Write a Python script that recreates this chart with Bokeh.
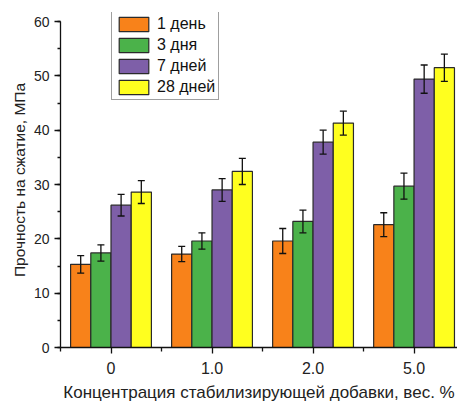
from bokeh.plotting import figure
from bokeh.models import (ColumnDataSource, Range1d, FixedTicker, SingleIntervalTicker,
                          Whisker, TeeHead, Legend, LegendItem)
from bokeh.transform import dodge
from bokeh.embed import file_html
from bokeh.resources import INLINE

categories = ["0", "1.0", "2.0", "5.0"]
series_names = ["1 день", "3 дня", "7 дней", "28 дней"]
day1 = [15.3, 17.2, 19.6, 22.6]
err1 = [1.6, 1.4, 2.3, 2.2]
day3 = [17.4, 19.6, 23.2, 29.7]
err3 = [1.5, 1.5, 2.1, 2.4]
day7 = [26.2, 29.0, 37.8, 49.4]
err7 = [2.0, 2.1, 2.2, 2.6]
day28 = [28.6, 32.4, 41.3, 51.5]
err28 = [2.1, 2.4, 2.2, 2.5]

colors = ["#F8821A", "#4BB24A", "#7E5FA8", "#FFFF1F"]
values = [day1, day3, day7, day28]
errors = [err1, err3, err7, err28]
offsets = [-0.3, -0.1, 0.1, 0.3]

FONT = "Liberation Sans"

p = figure(width=457, height=404, output_backend="svg", toolbar_location=None,
           x_range=Range1d(-0.5, 3.43), y_range=Range1d(0, 61.66),
           min_border_left=60, min_border_right=0, min_border_top=12, min_border_bottom=57)
p.outline_line_color = None
p.xgrid.visible = False
p.ygrid.visible = False
p.background_fill_color = "white"

xs = list(range(len(categories)))
items = []
for name, vals, errs, off, col in zip(series_names, values, errors, offsets, colors):
    src = ColumnDataSource(dict(
        x=xs, top=vals,
        upper=[v + e for v, e in zip(vals, errs)],
        lower=[v - e for v, e in zip(vals, errs)],
    ))
    r = p.vbar(x=dodge("x", off, range=p.x_range), top="top", width=0.2, source=src,
               fill_color=col, line_color="#2a2a2a", line_width=1.2)
    items.append(LegendItem(label=name, renderers=[r]))
    w = Whisker(base=dodge("x", off, range=p.x_range), upper="upper", lower="lower", source=src,
                line_color="#111111", line_width=1.3,
                upper_head=TeeHead(size=7, line_color="#111111", line_width=1.3),
                lower_head=TeeHead(size=7, line_color="#111111", line_width=1.3))
    w.level = "overlay"
    p.add_layout(w)

# X axis
xa = p.xaxis[0]
xa.ticker = FixedTicker(ticks=xs, minor_ticks=[-0.5, 0.5, 1.5, 2.5])
xa.major_label_overrides = {i: c for i, c in enumerate(categories)}
xa.axis_label = "Концентрация стабилизирующей добавки, вес. %"
xa.axis_label_text_font = FONT
xa.axis_label_text_font_size = "17px"
xa.axis_label_text_font_style = "normal"
xa.axis_label_text_color = "#222222"
xa.axis_label_standoff = 6
xa.major_label_text_font = FONT
xa.major_label_text_font_size = "16px"
xa.major_label_text_color = "#222222"
xa.major_label_standoff = 8
xa.major_tick_out = 6
xa.major_tick_in = 0
xa.minor_tick_out = 4
xa.minor_tick_in = 0
xa.axis_line_width = 1.3
xa.axis_line_color = "#111111"
xa.major_tick_line_color = "#111111"
xa.minor_tick_line_color = "#111111"
xa.major_tick_line_width = 1.3
xa.minor_tick_line_width = 1.3

# Y axis
ya = p.yaxis[0]
ya.ticker = SingleIntervalTicker(interval=10, num_minor_ticks=2)
ya.bounds = (0, 60)
ya.axis_label = "Прочность на сжатие, МПа"
ya.axis_label_text_font = FONT
ya.axis_label_text_font_size = "15.5px"
ya.axis_label_text_font_style = "normal"
ya.axis_label_text_color = "#222222"
ya.axis_label_standoff = 3
ya.major_label_text_font = FONT
ya.major_label_text_font_size = "14px"
ya.major_label_text_color = "#222222"
ya.major_label_standoff = 5
ya.major_tick_out = 6
ya.major_tick_in = 0
ya.minor_tick_out = 3
ya.minor_tick_in = 0
ya.axis_line_width = 1.3
ya.axis_line_color = "#111111"
ya.major_tick_line_color = "#111111"
ya.minor_tick_line_color = "#111111"
ya.major_tick_line_width = 1.3
ya.minor_tick_line_width = 1.3

legend = Legend(items=items, location=(51, 247), orientation="vertical",
                border_line_color="#404040", border_line_width=1,
                background_fill_color="white", background_fill_alpha=1,
                padding=3, spacing=3, margin=0,
                glyph_width=37, glyph_height=18, label_height=18,
                label_standoff=5, label_text_font=FONT, label_text_font_size="16px",
                label_text_color="#111111")
p.add_layout(legend, "center")

open("out.html", "w").write(file_html(p, INLINE))
